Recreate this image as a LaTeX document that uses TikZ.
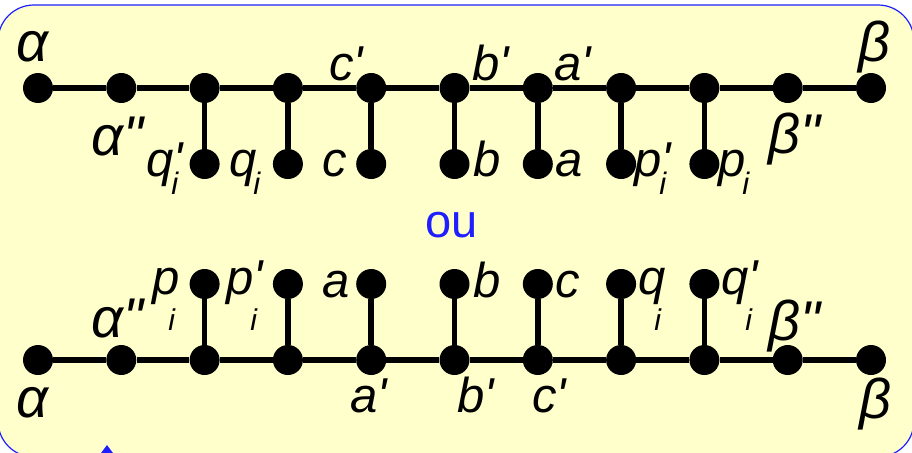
\documentclass[tikz,border=0pt]{standalone}
\usepackage{fontspec}
\setmainfont{Liberation Sans}[Ligatures=TeXOff]

\definecolor{fond}{RGB}{255,255,204}
\definecolor{bord}{RGB}{30,30,255}

\tikzset{
  pt/.style={circle, fill=black, inner sep=0pt, minimum size=30pt},
  lien/.style={line width=5.5pt},
  lbl/.style={inner sep=0pt, anchor=base west, font=\fontsize{49}{54}\selectfont\itshape},
  grec/.style={lbl, font=\fontsize{56}{60}\selectfont\itshape},
}

% indices (haut / bas)
\newcommand{\indh}[1]{#1\kern-3pt\raisebox{-18pt}{\fontsize{31}{31}\selectfont i}}
\newcommand{\indhp}[1]{#1\rlap{'}\kern-2pt\raisebox{-18pt}{\fontsize{31}{31}\selectfont i}}
\newcommand{\indb}[1]{#1\kern-11pt\raisebox{-36pt}{\fontsize{30}{30}\selectfont i}}
\newcommand{\indbp}[1]{#1\rlap{'}\kern-3pt\raisebox{-36pt}{\fontsize{30}{30}\selectfont i}}

\begin{document}
\begin{tikzpicture}[x=1pt,y=-1pt]

% -------------------------------------------------
% Cadre
% -------------------------------------------------
\clip (0,0) rectangle (912,452);
\fill[white] (0,0) rectangle (912,452);
\draw[bord, line width=1.2pt, fill=fond, rounded corners=36pt] (-2,5) rectangle (914,457);
\fill[bord] (101,453) -- (107,445) -- (113,453) -- cycle;

% -------------------------------------------------
% Points (haut)
% -------------------------------------------------
\foreach \i in {0,...,10}
  \node[pt] (h\i) at ({38+83.3*\i},88) {};
\foreach \i in {2,...,8}
  \node[pt] (hp\i) at ({38+83.3*\i},164) {};

% -------------------------------------------------
% Points (bas)
% -------------------------------------------------
\foreach \i in {0,...,10}
  \node[pt] (b\i) at ({38+83.3*\i},360) {};
\foreach \i in {2,...,8}
  \node[pt] (bp\i) at ({38+83.3*\i},284) {};

% -------------------------------------------------
% Liens
% -------------------------------------------------
\foreach \i [count=\j from 1] in {0,...,9} {
  \draw[lien] (h\i) -- (h\j);
  \draw[lien] (b\i) -- (b\j);
}
\foreach \i in {2,...,8} {
  \draw[lien] (h\i) -- (hp\i);
  \draw[lien] (b\i) -- (bp\i);
}

% -------------------------------------------------
% Etiquettes (haut)
% -------------------------------------------------
\node[grec] (ha) at (16,62) {α};
\node[grec] (has) at (91,155) {α"};
\node[grec] (hbs) at (768,153) {β"};
\node[grec] (hb) at (858,61) {β};
\node[lbl] (hc') at (329,80) {c'};
\node[lbl] (hb') at (472,80) {b'};
\node[lbl] (ha') at (554,80) {a'};
\node[lbl] (hq') at (146,176) {\indhp{q}};
\node[lbl] (hq) at (229,176) {\indh{q}};
\node[lbl] (hc) at (322,176) {c};
\node[lbl] (hbb) at (473,176) {b};
\node[lbl] (haa) at (555,176) {a};
\node[lbl] (hp') at (634,176) {\indhp{p}};
\node[lbl] (hp) at (718,176) {\indh{p}};

% -------------------------------------------------
% ou
% -------------------------------------------------
\node[inner sep=0pt, anchor=base, text=bord, font=\fontsize{47}{50}\selectfont] (ou) at (452,237) {ou};

% -------------------------------------------------
% Etiquettes (bas)
% -------------------------------------------------
\node[grec] (ba) at (16,417) {α};
\node[grec] (bas) at (91,337) {α"};
\node[grec] (bbs) at (768,340) {β"};
\node[grec] (bb) at (859,418) {β};
\node[lbl] (ba') at (350,412) {a'};
\node[lbl] (bb') at (457,412) {b'};
\node[lbl] (bc') at (532,412) {c'};
\node[lbl] (bp) at (152,294) {\indb{p}};
\node[lbl] (bp') at (226,294) {\indbp{p}};
\node[lbl] (baa) at (322,297) {a};
\node[lbl] (bbb) at (473,297) {b};
\node[lbl] (bcc) at (555,297) {c};
\node[lbl] (bq) at (638,294) {\indb{q}};
\node[lbl] (bq') at (721,294) {\indbp{q}};

\end{tikzpicture}
\end{document}
